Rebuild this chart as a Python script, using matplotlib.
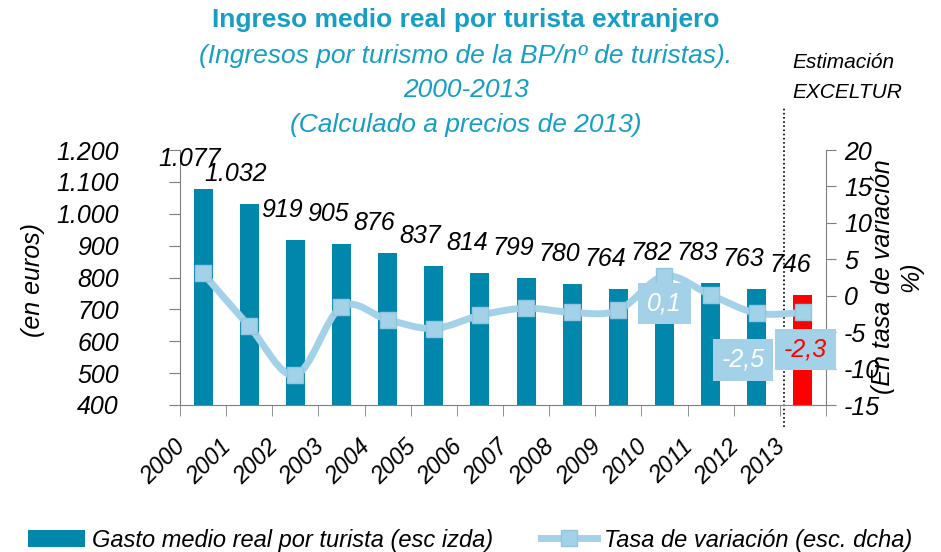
import numpy as np
import matplotlib
matplotlib.use('Agg')
import matplotlib.pyplot as plt
from matplotlib.path import Path
from matplotlib.patches import PathPatch, Patch
from matplotlib.lines import Line2D
from matplotlib.transforms import ScaledTranslation

plt.rcParams['font.family'] = ['Liberation Sans', 'DejaVu Sans']

# ---------------- data ----------------
years = ['2000', '2001', '2002', '2003', '2004', '2005', '2006',
         '2007', '2008', '2009', '2010', '2011', '2012', '2013']
gasto = [1077, 1032, 919, 905, 876, 837, 814, 799, 780, 764, 782, 783, 763, 746]
gasto_labels = ['1.077', '1.032', '919', '905', '876', '837', '814',
                '799', '780', '764', '782', '783', '763', '746']
tasa = [3.1, -4.2, -10.9, -1.5, -3.3, -4.5, -2.7, -1.7, -2.3, -2.0, 2.7, 0.1, -2.4, -2.3]
left_ticks = [400, 500, 600, 700, 800, 900, 1000, 1100, 1200]
left_tick_labels = ['400', '500', '600', '700', '800', '900', '1.000', '1.100', '1.200']
right_ticks = [-15, -10, -5, 0, 5, 10, 15, 20]
box_texts = ['0,1', '-2,5', '-2,3']

# ---------------- style ----------------
BAR = '#0087AB'
EST = '#FF0000'
LINE = '#A3D2E8'
TITLE = '#169EC4'
GREY = '#7F7F7F'

W, H = 941, 552
fig = plt.figure(figsize=(W / 100, H / 100), dpi=100)
L, R, T, B = 180, 826, 150, 405
ax = fig.add_axes([L / W, 1 - B / H, (R - L) / W, (B - T) / H])

x = np.arange(len(years))
colors = [BAR] * (len(years) - 1) + [EST]
ax.bar(x, gasto, width=0.41, color=colors, zorder=2)
ax.set_xlim(-0.5, len(years) - 0.5)
ax.set_ylim(400, 1200)
ax.set_yticks(left_ticks)
ax.set_yticklabels(left_tick_labels, fontsize=18, style='italic')
ax.tick_params(axis='y', direction='out', length=8, pad=36, color=GREY)
ax.set_xticks(x)
ax.set_xticklabels(years, rotation=45, ha='right', va='top', fontsize=17, style='italic')
ax.tick_params(axis='x', length=0, pad=22)
shift = ScaledTranslation(-13 / 100, 0, fig.dpi_scale_trans)
for lab in ax.get_xticklabels():
    lab.set_transform(lab.get_transform() + shift)
ax.set_xticks(np.arange(-0.5, len(years)), minor=True)
ax.tick_params(axis='x', which='minor', length=8, direction='out', color=GREY)
for s in ['top', 'right']:
    ax.spines[s].set_visible(False)
ax.spines['left'].set_color(GREY)
ax.spines['bottom'].set_color(GREY)

for xi, v, lab in zip(x, gasto, gasto_labels):
    ax.annotate(lab, (xi, v), xytext=(-9.5, 21.5), textcoords='offset points',
                ha='center', va='center', fontsize=18, style='italic', zorder=5,
                annotation_clip=False)

# right axis
ax2 = ax.twinx()
ax2.set_ylim(-15, 20)
ax2.set_yticks(right_ticks)
ax2.set_yticklabels([str(t) for t in right_ticks], fontsize=18, style='italic')
ax2.tick_params(axis='y', direction='out', length=7, pad=6, color=GREY)
for s in ['top', 'left', 'bottom']:
    ax2.spines[s].set_visible(False)
ax2.spines['right'].set_color(GREY)

# smooth line (Catmull-Rom -> cubic Bezier)
pts = np.column_stack([x, tasa]).astype(float)
ext = np.vstack([pts[0], pts, pts[-1]])
verts = [tuple(pts[0])]
codes = [Path.MOVETO]
for i in range(len(pts) - 1):
    p0, p1, p2, p3 = ext[i], ext[i + 1], ext[i + 2], ext[i + 3]
    c1 = p1 + (p2 - p0) / 6.0
    c2 = p2 - (p3 - p1) / 6.0
    verts += [tuple(c1), tuple(c2), tuple(p2)]
    codes += [Path.CURVE4] * 3
ax2.add_patch(PathPatch(Path(verts, codes), facecolor='none', edgecolor=LINE,
                        lw=5, capstyle='round', joinstyle='round', zorder=3))
ax2.plot(x, tasa, linestyle='none', marker='s', markersize=11,
         markerfacecolor=LINE, markeredgecolor='#92C6DF', markeredgewidth=1, zorder=4)

# value boxes
box_pos = [(10.0, -1.1), (11.7, -8.8), (13.05, -7.4)]
box_col = ['white', 'white', 'red']
for t, (bx, by), c in zip(box_texts, box_pos, box_col):
    ax2.text(bx, by, t, ha='center', va='center', fontsize=18, style='italic', color=c,
             bbox=dict(boxstyle='square,pad=0.35', fc=LINE, ec='none'), zorder=6)

# dotted estimation separator
ax.axvline(12.6, ymin=-0.085, ymax=1.165, color='black', ls=(0, (1, 1.5)), lw=1.2,
           clip_on=False, zorder=1)
fig.text(792 / W, 1 - 63 / H, 'Estimación', fontsize=15, style='italic', ha='left', va='center')
fig.text(792 / W, 1 - 92 / H, 'EXCELTUR', fontsize=15, style='italic', ha='left', va='center')

# axis labels
fig.text(33 / W, 1 - 280 / H, '(en euros)', rotation=90, fontsize=18, style='italic',
         ha='center', va='center')
fig.text(897 / W, 1 - 277 / H, '(En tasa de variación\n%)', rotation=90, fontsize=18,
         style='italic', ha='center', va='center', multialignment='center')

# titles
cx = 466 / W
fig.text(cx, 1 - 20 / H, 'Ingreso medio real por turista extranjero', fontsize=19,
         fontweight='bold', color=TITLE, ha='center', va='center')
fig.text(cx, 1 - 56 / H, '(Ingresos por turismo de la BP/nº de turistas).', fontsize=19,
         style='italic', color=TITLE, ha='center', va='center')
fig.text(cx, 1 - 90 / H, '2000-2013', fontsize=19, style='italic', color=TITLE,
         ha='center', va='center')
fig.text(cx, 1 - 125 / H, '(Calculado a precios de 2013)', fontsize=19, style='italic',
         color=TITLE, ha='center', va='center')

# legend
handles = [Patch(facecolor=BAR, edgecolor='none'),
           Line2D([], [], color=LINE, lw=5, marker='s', markersize=11,
                  markerfacecolor=LINE, markeredgecolor='#92C6DF')]
labels = ['Gasto medio real por turista (esc izda)', 'Tasa de variación (esc. dcha)']
fig.legend(handles, labels, loc='center left', bbox_to_anchor=(19 / W, 1 - 540 / H),
           ncol=2, frameon=False, prop={'size': 17, 'style': 'italic'},
           handlelength=2.4, handletextpad=0.3, columnspacing=2.0, borderaxespad=0)

fig.savefig('out.png', dpi=100)
